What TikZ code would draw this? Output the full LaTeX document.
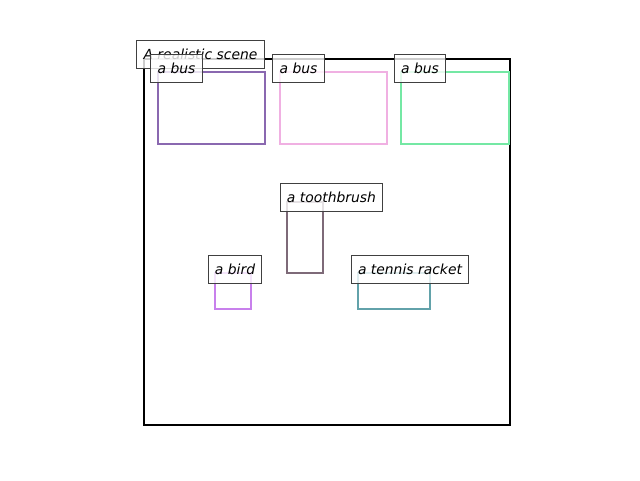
\documentclass[tikz,border=0pt]{standalone}
\usepackage{fontspec}
\setmainfont{DejaVu Sans}
\begin{document}
\begin{tikzpicture}[x=1pt,y=-1pt,
  lbl/.style={draw=black!75,line width=1pt,fill=white,fill opacity=0.8,text opacity=1,
    inner xsep=6.8pt,inner ysep=0pt,minimum height=28pt,
    font=\fontsize{13.9}{16}\selectfont\itshape},
  obj/.style={line width=2pt}]
\useasboundingbox (0,0) rectangle (640,480);
\definecolor{cbusA}{HTML}{8A68B0}
\definecolor{cbusB}{HTML}{F0B0E2}
\definecolor{cbusC}{HTML}{74E8A4}
\definecolor{ctooth}{HTML}{7E6A78}
\definecolor{cbird}{HTML}{C880EC}
\definecolor{ctennis}{HTML}{62A2AA}
\draw[line width=2pt] (144,59) rectangle (510,425);
\draw[obj,cbusA] (158,72) rectangle (265,144);
\draw[obj,cbusB] (280,72) rectangle (387,144);
\draw[obj,cbusC] (401,72) rectangle (509,144);
\draw[obj,ctooth] (287,202) rectangle (323,273);
\draw[obj,cbird] (215,273) rectangle (251,309);
\draw[obj,ctennis] (358,273) rectangle (430,309);
\node[lbl] (scene) at (200.5,54) {A realistic scene};
\node[lbl] (bus1) at (176.5,68) {a bus};
\node[lbl] (bus2) at (298.5,68) {a bus};
\node[lbl] (bus3) at (420,68) {a bus};
\node[lbl] (tooth) at (331.5,197) {a toothbrush};
\node[lbl] (bird) at (235,269) {a bird};
\node[lbl] (tennis) at (410,269) {a tennis racket};
\end{tikzpicture}
\end{document}
